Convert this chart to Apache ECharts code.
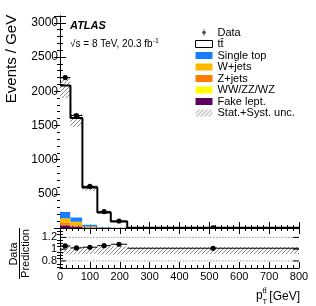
<!DOCTYPE html>
<html>
<head>
<meta charset="utf-8">
<script src="https://cdn.jsdelivr.net/npm/echarts@6/dist/echarts.min.js"></script>
<style>html,body{margin:0;padding:0;background:#fff}#c{width:316px;height:306px}</style>
</head>
<body>
<div id="c"></div>
<script>
// ---- data (events / GeV) ----
const binEdges   = [0, 35, 75, 125, 170, 225, 800];
const ttbar      = [1847, 1454, 540, 210, 86, 2.2];
const singleTop  = [96, 64, 28, 9, 4, 0.5];
const wjets      = [65, 52, 10, 3.5, 2, 0.2];
const zjets      = [32, 15, 5, 1.5, 0.8, 0.1];
const diboson    = [5, 3, 1.5, 0.5, 0.3, 0.05];
const fakeLep    = [40, 22, 6, 2, 1, 0.1];
const dataVals   = [2200, 1645, 610, 240, 102, 3.2];
const uncLow     = [0.91, 0.92, 0.92, 0.91, 0.91, 0.92];
const uncHigh    = [1.05, 1.04, 1.04, 1.05, 1.05, 1.035];
const xTicks     = [0, 100, 200, 300, 400, 500, 600, 700, 800];
const ratioMajorTicks = [0.8, 1, 1.2];
const ratioMinorTicks = [0.7, 0.75, 0.85, 0.9, 0.95, 1.05, 1.1, 1.15, 1.25, 1.3, 1.35];
const ratioRefLines = [0.8, 1.2];

const FONT = '"Liberation Sans", Arial, Helvetica, sans-serif';
const C = {
  single: '#1a7cff', wjets: '#ffb800', zjets: '#ff7a00', diboson: '#ffff00', fake: '#5e005e'
};

function hatchPattern() {
  const c = document.createElement('canvas');
  c.width = 4; c.height = 4;
  const g = c.getContext('2d');
  g.strokeStyle = '#7a7a7a'; g.lineWidth = 0.9;
  g.beginPath();
  g.moveTo(0, 4); g.lineTo(4, 0);
  g.moveTo(-1, 1); g.lineTo(1, -1);
  g.moveTo(3, 5); g.lineTo(5, 3);
  g.stroke();
  return { image: c, repeat: 'repeat' };
}
const HATCH = hatchPattern();

const nb = binEdges.length - 1;
const comps = [
  { name: 'Fake lept.', vals: fakeLep, color: C.fake },
  { name: 'WW/ZZ/WZ', vals: diboson, color: C.diboson },
  { name: 'Z+jets', vals: zjets, color: C.zjets },
  { name: 'W+jets', vals: wjets, color: C.wjets },
  { name: 'Single top', vals: singleTop, color: C.single },
  { name: 'tt\u0304', vals: ttbar, color: '#ffffff' }
];
const cum = new Array(nb).fill(0);
const stackRows = comps.map(c => c.vals.map((v, i) => {
  const b = cum[i]; cum[i] += v;
  return [binEdges[i], binEdges[i + 1], b, cum[i]];
}));
const total = cum.slice();

function rectItem(fill) {
  return function (params, api) {
    const p0 = api.coord([api.value(0), api.value(3)]);
    const p1 = api.coord([api.value(1), api.value(2)]);
    return { type: 'rect', shape: { x: p0[0], y: p0[1], width: p1[0] - p0[0], height: p1[1] - p0[1] },
      style: { fill: fill } };
  };
}
function dataItem(params, api) {
  const lo = api.value(0), hi = api.value(1), v = api.value(2);
  const a = api.coord([lo, v]), b = api.coord([hi, v]), c = api.coord([(lo + hi) / 2, v]);
  return { type: 'group', children: [
    { type: 'line', shape: { x1: a[0], y1: a[1], x2: b[0], y2: b[1] }, style: { stroke: '#000', lineWidth: 1 } },
    { type: 'circle', shape: { cx: c[0], cy: c[1], r: 2.6 }, style: { fill: '#000' } }
  ] };
}

const series = [];
comps.forEach((c, k) => {
  series.push({ type: 'custom', name: c.name, xAxisIndex: 0, yAxisIndex: 0, clip: true,
    itemStyle: { color: c.color }, renderItem: rectItem(c.color), data: stackRows[k], z: 2 });
});
// uncertainty band main
series.push({ type: 'custom', name: 'Stat.+Syst. unc.', xAxisIndex: 0, yAxisIndex: 0, clip: true,
  itemStyle: { color: HATCH }, renderItem: rectItem(HATCH), z: 3,
  data: total.map((t, i) => [binEdges[i], binEdges[i + 1], t * uncLow[i], t * uncHigh[i]]) });
// ttbar outline (step)
const stepPts = total.map((t, i) => [binEdges[i], t]);
stepPts.push([binEdges[nb], total[nb - 1]]);
series.push({ type: 'line', name: 'outline', xAxisIndex: 0, yAxisIndex: 0, step: 'end', symbol: 'none',
  lineStyle: { color: '#000', width: 2 }, data: stepPts, z: 4, silent: true });
// data
series.push({ type: 'custom', name: 'Data', xAxisIndex: 0, yAxisIndex: 0, clip: true,
  itemStyle: { color: '#000' }, renderItem: dataItem, z: 5,
  data: dataVals.map((v, i) => [binEdges[i], binEdges[i + 1], v]) });

// ratio panel
series.push({ type: 'custom', name: 'Stat.+Syst. unc.', xAxisIndex: 2, yAxisIndex: 2, clip: true,
  itemStyle: { color: HATCH }, renderItem: rectItem(HATCH), z: 2,
  data: total.map((t, i) => [binEdges[i], binEdges[i + 1], uncLow[i], uncHigh[i]]) });
series.push({ type: 'custom', name: 'refl', xAxisIndex: 2, yAxisIndex: 2, silent: true, z: 1,
  renderItem: function (params, api) {
    const a = api.coord([binEdges[0], api.value(0)]), b = api.coord([binEdges[nb], api.value(0)]);
    return { type: 'line', shape: { x1: a[0], y1: a[1], x2: b[0], y2: b[1] },
      style: { stroke: '#999', lineWidth: 1, lineDash: [1.5, 1.5] } };
  }, data: ratioRefLines.map(v => [v]) });
series.push({ type: 'custom', name: 'majorTicks', xAxisIndex: 2, yAxisIndex: 2, silent: true, z: 6,
  renderItem: function (params, api) {
    const a = api.coord([binEdges[0], api.value(0)]), b = api.coord([binEdges[nb], api.value(0)]);
    return { type: 'group', children: [
      { type: 'line', shape: { x1: a[0], y1: a[1], x2: a[0] + 6, y2: a[1] }, style: { stroke: '#000', lineWidth: 1 } },
      { type: 'line', shape: { x1: b[0] - 6, y1: b[1], x2: b[0], y2: b[1] }, style: { stroke: '#000', lineWidth: 1 } }
    ] };
  }, data: ratioMajorTicks.map(v => [v]) });
series.push({ type: 'custom', name: 'Data', xAxisIndex: 2, yAxisIndex: 2, clip: true,
  itemStyle: { color: '#000' }, renderItem: dataItem, z: 5,
  data: dataVals.map((v, i) => [binEdges[i], binEdges[i + 1], v / total[i]]) });

const plain = v => String(v);
function xAx(grid, pos, labels) {
  return { type: 'value', gridIndex: grid, position: pos, min: xTicks[0], max: xTicks[xTicks.length - 1], interval: 100,
    axisLine: { show: true, lineStyle: { color: '#000', width: 1 } },
    axisTick: { show: true, inside: true, length: 6, lineStyle: { color: '#000' } },
    minorTick: { show: true, splitNumber: 5, length: 3, lineStyle: { color: '#000' } },
    axisLabel: { show: labels, fontSize: 11, color: '#000', margin: 3, fontFamily: FONT, formatter: plain },
    splitLine: { show: false }, minorSplitLine: { show: false } };
}
function yMain(pos, labels) {
  return { type: 'value', gridIndex: 0, position: pos, min: 0, max: 3100, interval: 500,
    axisLine: { show: true, lineStyle: { color: '#000', width: 1 } },
    axisTick: { show: true, inside: true, length: 6, lineStyle: { color: '#000' } },
    minorTick: { show: true, splitNumber: 5, length: 3, lineStyle: { color: '#000' } },
    axisLabel: { show: labels, fontSize: 12, color: '#000', margin: 2, showMinLabel: false, showMaxLabel: false,
      fontFamily: FONT, formatter: plain },
    splitLine: { show: false } };
}
function yRatio(pos, labels) {
  return { type: 'value', gridIndex: 1, position: pos, min: 0.68, max: 1.36,
    axisLine: { show: true, lineStyle: { color: '#000', width: 1 } },
    axisTick: { show: true, inside: true, length: 3, customValues: ratioMinorTicks, lineStyle: { color: '#000' } },
    axisLabel: { show: labels, fontSize: 11, color: '#000', margin: 3, customValues: ratioMajorTicks,
      fontFamily: FONT, formatter: plain },
    splitLine: { show: false } };
}

const legendIcon = 'path://M2.6,5A2.4,2.4 0 1,0 7.4,5A2.4,2.4 0 1,0 2.6,5Z M4.6,0H5.4V10H4.6Z';

const option = {
  animation: false,
  textStyle: { fontFamily: FONT },
  grid: [
    { left: 60, top: 16, width: 239, height: 212 },
    { left: 60, top: 228, width: 239, height: 40 }
  ],
  xAxis: [xAx(0, 'bottom', false), xAx(0, 'top', false), xAx(1, 'bottom', true), xAx(1, 'top', false)],
  yAxis: [yMain('left', true), yMain('right', false), yRatio('left', true), yRatio('right', false)],
  legend: {
    orient: 'vertical', left: 190, top: 22, itemWidth: 17, itemHeight: 7, itemGap: 0.5,
    selectedMode: false,
    textStyle: { fontSize: 11, color: '#000', lineHeight: 10, fontFamily: FONT },
    data: [
      { name: 'Data', icon: legendIcon, itemStyle: { color: '#000' } },
      { name: 'tt\u0304', icon: 'rect', itemStyle: { color: '#fff', borderColor: '#000', borderWidth: 1 } },
      { name: 'Single top', icon: 'rect', itemStyle: { color: C.single } },
      { name: 'W+jets', icon: 'rect', itemStyle: { color: C.wjets } },
      { name: 'Z+jets', icon: 'rect', itemStyle: { color: C.zjets } },
      { name: 'WW/ZZ/WZ', icon: 'rect', itemStyle: { color: C.diboson } },
      { name: 'Fake lept.', icon: 'rect', itemStyle: { color: C.fake } },
      { name: 'Stat.+Syst. unc.', icon: 'rect', itemStyle: { color: HATCH } }
    ]
  },
  graphic: [
    { type: 'text', x: 12, y: 59, rotation: Math.PI / 2,
      style: { text: 'Events / GeV', fontSize: 15, fontFamily: FONT, fill: '#000', align: 'center', verticalAlign: 'middle' } },
    { type: 'text', x: 70, y: 26,
      style: { text: 'ATLAS', fontSize: 11, fontWeight: 'bold', fontStyle: 'italic', fontFamily: FONT, fill: '#000', verticalAlign: 'middle' } },
    { type: 'text', x: 70, y: 43.5,
      style: { text: '{a|\u221As = 8 TeV, 20.3 fb}{b|-1}', fontFamily: FONT, fill: '#000', verticalAlign: 'middle',
        rich: { a: { fontSize: 10, fontFamily: FONT, lineHeight: 12, verticalAlign: 'bottom' },
                b: { fontSize: 7, fontFamily: FONT, lineHeight: 12, verticalAlign: 'top' } } } },
    { type: 'text', x: 14, y: 254, rotation: Math.PI / 2,
      style: { text: 'Data', fontSize: 11, fontFamily: FONT, fill: '#000', align: 'center', verticalAlign: 'middle' } },
    { type: 'line', shape: { x1: 19.5, y1: 228, x2: 19.5, y2: 279 }, style: { stroke: '#000', lineWidth: 1 } },
    { type: 'text', x: 26, y: 253.5, rotation: Math.PI / 2,
      style: { text: 'Prediction', fontSize: 11, fontFamily: FONT, fill: '#000', align: 'center', verticalAlign: 'middle' } },
    { type: 'text', x: 256, y: 296,
      style: { text: 'p', fontSize: 12, fontFamily: FONT, fill: '#000', verticalAlign: 'middle' } },
    { type: 'text', x: 262.5, y: 291,
      style: { text: 'tt\u0304', fontSize: 7.5, fontFamily: FONT, fill: '#000', verticalAlign: 'middle' } },
    { type: 'text', x: 262.5, y: 302,
      style: { text: 'T', fontSize: 7.5, fontFamily: FONT, fill: '#000', verticalAlign: 'middle' } },
    { type: 'text', x: 300, y: 297,
      style: { text: '[GeV]', fontSize: 12, fontFamily: FONT, fill: '#000', align: 'right', verticalAlign: 'middle' } }
  ],
  series: series
};

const chart = echarts.init(document.getElementById('c'), null, { renderer: 'canvas' });
chart.setOption(option);
</script>
</body>
</html>
